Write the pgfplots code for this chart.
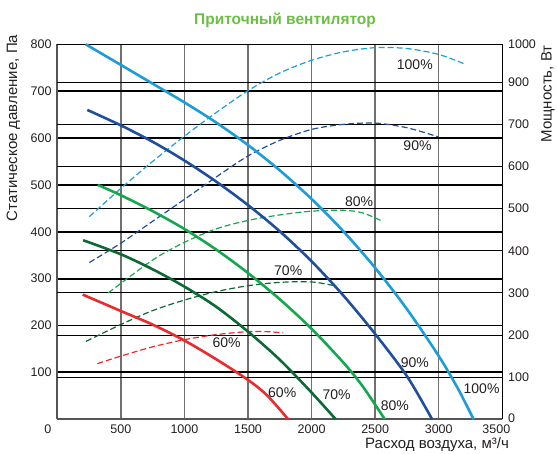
\documentclass[border=0pt]{standalone}
\usepackage{fontspec}
\setmainfont{Liberation Sans}
\usepackage{pgfplots}
\pgfplotsset{compat=1.18}

\definecolor{cA}{HTML}{1B9DD9}   % 100%
\definecolor{cB}{HTML}{1F4E9D}   % 90%
\definecolor{cC}{HTML}{14A84E}   % 80%
\definecolor{cD}{HTML}{0B6A34}   % 70%
\definecolor{cE}{HTML}{EC2A2E}   % 60%
\definecolor{ttl}{HTML}{6CBE45}
\definecolor{txt}{HTML}{231F20}
\definecolor{vgrid}{HTML}{707070}
\definecolor{frm}{HTML}{555555}

\pgfplotsset{
  base/.style={
    width=445pt, height=375pt, scale only axis,
    xmin=0, xmax=3500,
    major tick length=0pt,
    tick label style={font=\fontsize{12.5}{14}\selectfont, text=txt, inner sep=1pt},
    /pgf/number format/assume math mode=true,
    /pgf/number format/1000 sep={},
    scaled ticks=false,
  },
  pw/.style={line width=1.2pt, dash pattern=on 6pt off 3pt, smooth},
  pr/.style={line width=2.6pt, smooth},
}
\tikzset{pct/.style={font=\fontsize{14}{16}\selectfont, text=txt}}

\begin{document}
\begin{tikzpicture}
% grid of the pressure axis
\begin{axis}[base,
  ymin=0, ymax=800,
  separate axis lines,
  axis x line*=bottom, axis y line*=left,
  axis line style={draw=frm, line width=1.8pt},
  xtick={500,1000,...,3000},
  extra x ticks={0,3500},
  extra x tick labels={\makebox[0pt][r]{0\hspace{6pt}},\makebox[0pt][r]{3500\hspace{-8pt}}},
  extra x tick style={grid=none},
  ytick={100,200,...,700},
  extra y ticks={800},
  extra y tick style={grid=none},
  xmajorgrids, ymajorgrids,
  x grid style={vgrid, line width=1.4pt},
  y grid style={black, line width=1.9pt},
  xticklabel style={yshift=-4.5pt},
  yticklabel style={xshift=-4.6pt},
]
\end{axis}

% power axis with dashed curves
\begin{axis}[base,
  ymin=0, ymax=890,
  axis x line*=top, axis y line*=right,
  axis line style={black, line width=1.1pt},
  xtick=\empty,
  ytick={100,200,...,800},
  yticklabels={100,200,300,400,500,600,700,900},
  extra y ticks={0,890},
  extra y tick labels={\raisebox{1.5pt}{0},1000},
  extra y tick style={grid=none},
  ymajorgrids,
  y grid style={black, line width=0.9pt},
  yticklabel style={xshift=4.6pt},
]
\addplot[pw, cA] coordinates {(252,481) (500,548) (750,612) (1000,672) (1250,728) (1500,780) (1750,822) (2000,852) (2250,872) (2500,882) (2750,880) (3000,866) (3206,843)};
\addplot[pw, cB] coordinates {(252,372) (500,418) (750,470) (1000,522) (1250,575) (1500,625) (1750,662) (2000,688) (2250,700) (2500,703) (2750,692) (3000,670)};
\addplot[pw, cC] coordinates {(401,300) (750,378) (1000,420) (1250,452) (1500,472) (1750,485) (2000,494) (2250,496) (2400,490) (2551,471)};
\addplot[pw, cD] coordinates {(226,185) (500,225) (750,258) (1000,283) (1250,303) (1500,317) (1750,325) (2000,326) (2180,317)};
\addplot[pw, cE] coordinates {(315,132) (500,150) (750,172) (1000,189) (1250,201) (1500,208) (1650,208) (1777,205)};
\end{axis}

% pressure curves
\begin{axis}[base, ymin=0, ymax=800, hide axis, clip=false]
\addplot[pr, cA] coordinates {(223,800) (500,756) (750,716) (1000,676) (1250,633) (1500,585) (1750,531) (2000,470) (2250,401) (2500,323) (2750,235) (3000,135) (3150,66) (3274,0)};
\addplot[pr, cB] coordinates {(236,660) (500,627) (750,592) (1000,552) (1250,507) (1500,457) (1750,401) (2000,337) (2250,264) (2500,182) (2750,92) (2948,0)};
\addplot[pr, cC] coordinates {(318,500) (500,478) (750,444) (1000,406) (1250,362) (1500,312) (1750,256) (2000,193) (2250,121) (2400,71) (2576,0)};
\addplot[pr, cD] coordinates {(203,382) (500,352) (750,320) (1000,283) (1250,240) (1500,187) (1750,127) (2000,57) (2190,0)};
\addplot[pr, cE] coordinates {(200,266) (500,231) (750,202) (1000,168) (1250,128) (1500,84) (1650,51) (1816,0)};

\node[pct] at (axis cs:2812,757) {100\%};
\node[pct] at (axis cs:2833,583) {90\%};
\node[pct] at (axis cs:2374,464) {80\%};
\node[pct] at (axis cs:1816,317) {70\%};
\node[pct] at (axis cs:1332,163) {60\%};
\node[pct] at (axis cs:1769,57) {60\%};
\node[pct] at (axis cs:2197,52) {70\%};
\node[pct] at (axis cs:2655,28) {80\%};
\node[pct] at (axis cs:2812,121) {90\%};
\node[pct] at (axis cs:3337,66) {100\%};
\end{axis}

\node[anchor=base, text=ttl, font=\bfseries\fontsize{15.5}{18}\selectfont] at (227.7pt,394.3pt) {Приточный вентилятор};
\node[rotate=90, text=txt, font=\fontsize{15}{17}\selectfont] at (-44pt,291.3pt) {Статическое давление, Па};
\node[rotate=90, text=txt, font=\fontsize{15}{17}\selectfont] at (490.7pt,325.3pt) {Мощность, Вт};
\node[anchor=base, text=txt, font=\fontsize{15}{17}\selectfont] at (379.7pt,-29pt) {Расход воздуха, м³/ч};

\pgfresetboundingbox
\useasboundingbox (-57.3pt,-34.7pt) rectangle (499.7pt,419.3pt);
\end{tikzpicture}
\end{document}
